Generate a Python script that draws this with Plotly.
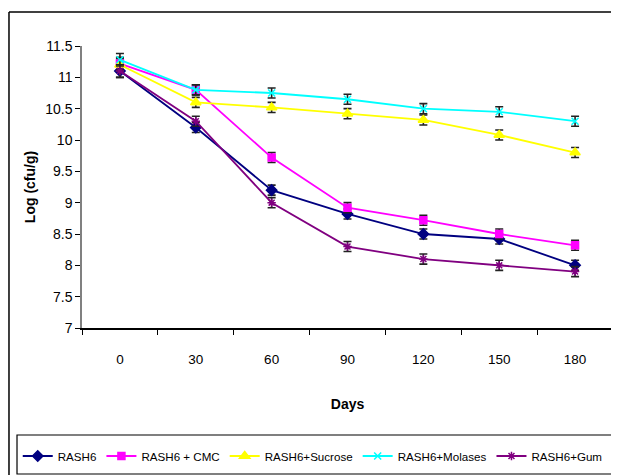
import plotly.graph_objects as go

days = ["0", "30", "60", "90", "120", "150", "180"]
rash6 = [11.1, 10.2, 9.2, 8.82, 8.5, 8.42, 8.0]
rash6_cmc = [11.22, 10.8, 9.72, 8.92, 8.72, 8.5, 8.32]
rash6_sucrose = [11.2, 10.6, 10.52, 10.42, 10.32, 10.08, 9.8]
rash6_molases = [11.28, 10.8, 10.75, 10.65, 10.5, 10.45, 10.3]
rash6_gum = [11.1, 10.3, 9.0, 8.3, 8.1, 8.0, 7.9]
err = [0.1, 0.08, 0.08, 0.08, 0.08, 0.08, 0.08]

series = [
    ("RASH6", rash6, "#000080", "diamond", 8),
    ("RASH6 + CMC", rash6_cmc, "#FF00FF", "square", 7),
    ("RASH6+Sucrose", rash6_sucrose, "#FFFF00", "triangle-up", 9),
    ("RASH6+Molases", rash6_molases, "#00FFFF", "x-thin-open", 7),
    ("RASH6+Gum", rash6_gum, "#800080", "asterisk-open", 7),
]

font_fam = "Liberation Sans Narrow, Arial Narrow, Liberation Sans, Arial"

fig = go.Figure()
for name, vals, color, sym, size in series:
    fig.add_trace(go.Scatter(
        x=days, y=vals, name=name, mode="lines+markers",
        line=dict(color=color, width=1.8),
        marker=dict(symbol=sym, color=color, size=size,
                    line=dict(color=color, width=1.5)),
        error_y=dict(type="data", array=err, color="#222222", thickness=1.6, width=4),
    ))

fig.update_layout(
    width=619, height=475,
    margin=dict(l=74, r=14, t=38, b=155, autoexpand=False),
    paper_bgcolor="white", plot_bgcolor="white",
    font=dict(family=font_fam, size=12, color="black"),
    showlegend=True,
    legend=dict(orientation="h", x=-0.121, xanchor="left", y=-0.4539, yanchor="middle",
                bgcolor="rgba(0,0,0,0)", borderwidth=0, font=dict(size=11.6, family=font_fam),
                itemwidth=30, tracegroupgap=0),
    xaxis=dict(type="category", showline=True, linecolor="black", linewidth=1.5,
               ticks="outside", ticklen=5, tickcolor="black", tickson="boundaries",
               showgrid=False, zeroline=False, ticklabelstandoff=18,
               tickfont=dict(size=13.5),
               title=dict(text="<b>Days</b>", font=dict(size=14, family=font_fam), standoff=33),
               range=[-0.5, 6.5]),
    yaxis=dict(range=[7, 11.5], dtick=0.5, showline=True, linecolor="#808080", linewidth=1.5,
               ticks="outside", ticklen=5, tickcolor="black", showgrid=False, zeroline=False,
               tickfont=dict(size=14),
               title=dict(text="<b>Log (cfu/g)</b>", font=dict(size=14, family=font_fam), standoff=6)),
    shapes=[
        dict(type="line", xref="paper", yref="paper", x0=-0.1375, x1=1.1, y0=1.1206, y1=1.1206,
             line=dict(color="black", width=1.5)),
        dict(type="line", xref="paper", yref="paper", x0=-0.1375, x1=-0.1375, y0=1.1206, y1=-0.6,
             line=dict(color="black", width=1.5)),
        dict(type="rect", xref="paper", yref="paper", x0=-0.1224, x1=1.0, y0=-0.5177, y1=-0.3794,
             line=dict(color="black", width=1.2), fillcolor="rgba(0,0,0,0)"),
    ],
)

fig.write_html("out.html")
